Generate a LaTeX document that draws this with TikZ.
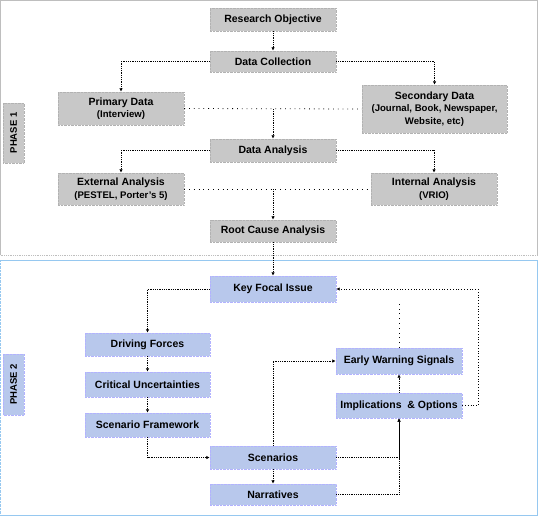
\documentclass[tikz,border=0pt]{standalone}
\usepackage{fontspec}
\setmainfont{Liberation Sans}
\usepackage{tikz}
\usetikzlibrary{arrows.meta, positioning, calc}
\definecolor{boxgray}{RGB}{200,200,200}
\definecolor{boxblue}{RGB}{184,200,236}
\definecolor{framegray}{RGB}{190,190,190}
\definecolor{frameblue}{RGB}{150,200,240}

\tikzset{
	phasebox/.style={draw=gray!60, densely dotted, fill=boxgray, text=black, align=center,
		inner sep=0pt, font=\bfseries\fontsize{10.5}{12.5}\selectfont},
	bluebox/.style={phasebox, draw=blue!30, fill=boxblue},
	link/.style={densely dotted, thick, -{Latex[length=3.5pt,width=3.5pt]}},
	joinline/.style={loosely dotted, thick},
	backline/.style={dotted, thick, -{Latex[length=3.5pt,width=3.5pt]}}
}
\newcommand{\subtxt}[1]{{\fontsize{9.6}{11}\selectfont #1}}

\begin{document}
\begin{tikzpicture}[x=1pt, y=-1pt]
	\useasboundingbox (0,0) rectangle (538,516);
	\pgfmathsetmacro{\midx}{273}
	\pgfmathsetmacro{\leftx}{121}
	\pgfmathsetmacro{\rightx}{434}
	
	%% phase frames
	\draw[framegray] (0.5,255) -- (0.5,0.5) -- (537.5,0.5) -- (537.5,255);
	\draw[framegray, densely dotted, thick] (0.5,255) -- (537.5,255);
	\draw[frameblue] (0.5,260) -- (537.5,260) -- (537.5,515.5) -- (0.5,515.5);
	\draw[frameblue, densely dotted] (0.5,260) -- (0.5,515.5);
	
	\node[phasebox, rotate=90, minimum width=60, minimum height=21, font=\bfseries\fontsize{9.5}{11}\selectfont] (phaseone) at (13.5,133) {PHASE 1};
	\node[bluebox, rotate=90, minimum width=61, minimum height=21, font=\bfseries\fontsize{9.5}{11}\selectfont] (phasetwo) at (13.5,384.5) {PHASE 2};
	
	%% phase 1
	\node[phasebox, minimum width=126, minimum height=23] (resobj) at (\midx,19.5) {Research Objective};
	\node[phasebox, minimum width=126, minimum height=21] (datacol) at (\midx,61.5) {Data Collection};
	\node[phasebox, minimum width=126, minimum height=33] (primary) at (\leftx,108.5) {Primary Data\\\subtxt{(Interview)}};
	\node[phasebox, minimum width=145, minimum height=48] (secondary) at (434.5,109) {Secondary Data\\\subtxt{(Journal, Book, Newspaper,}\\\subtxt{Website, etc)}};
	\node[phasebox, minimum width=126, minimum height=23] (dataana) at (\midx,150.5) {Data Analysis};
	\node[phasebox, minimum width=126, minimum height=32] (external) at (\leftx,189) {External Analysis\\\subtxt{(PESTEL, Porter's 5)}};
	\node[phasebox, minimum width=126, minimum height=32] (internal) at (\rightx,189) {Internal Analysis\\\subtxt{(VRIO)}};
	\node[phasebox, minimum width=126, minimum height=22] (rootcause) at (\midx,231) {Root Cause Analysis};
	
	\draw[link] (resobj) -- (datacol);
	\draw[link] (datacol.west) -| (primary.north);
	\draw[link] (datacol.east) -| (secondary.north);
	\draw[joinline] (primary.east) -- (secondary.west);
	\draw[link] (dataana.north |- secondary.west) -- (dataana.north);
	\draw[link] (dataana.west) -| (external.north);
	\draw[link] (dataana.east) -| (internal.north);
	\draw[joinline] (external.east) -- (internal.west);
	\draw[link] (rootcause.north |- external.east) -- (rootcause.north);
	
	%% phase 2
	\node[bluebox, minimum width=126, minimum height=26] (keyfocal) at (\midx,289) {Key Focal Issue};
	\node[bluebox, minimum width=125, minimum height=23] (driving) at (147.5,344.5) {Driving Forces};
	\node[bluebox, minimum width=125, minimum height=25] (critical) at (147.5,384.5) {Critical Uncertainties};
	\node[bluebox, minimum width=125, minimum height=24] (framework) at (147.5,425) {Scenario Framework};
	\node[bluebox, minimum width=126, minimum height=23] (scenarios) at (\midx,457.5) {Scenarios};
	\node[bluebox, minimum width=126, minimum height=21] (narratives) at (\midx,494.5) {Narratives};
	\node[bluebox, minimum width=126, minimum height=26] (earlywarn) at (399,361) {Early Warning Signals};
	\node[bluebox, minimum width=126, minimum height=25] (implic) at (399,405.5) {Implications~~\&~Options};
	\coordinate (backturn) at (478,405.5);
	
	\draw[link] (rootcause) -- (keyfocal);
	\draw[link] (keyfocal.west) -| (driving.north);
	\draw[link] (driving) -- (critical);
	\draw[link] (critical) -- (framework);
	\draw[link] (framework.south) |- (scenarios.west);
	\draw[link] (scenarios) -- (narratives);
	\draw[link] (scenarios.north) |- (earlywarn.west);
	\draw[link] (scenarios.east) -| (implic.south);
	\draw[link] (narratives.east) -| (implic.south);
	\draw[link] (implic) -- (earlywarn);
	\draw[loosely dotted, thick] (earlywarn.north) -- (earlywarn.north |- keyfocal.south);
	\draw[backline] (implic.east) -- (backturn) |- (keyfocal.east);
\end{tikzpicture}
\end{document}
